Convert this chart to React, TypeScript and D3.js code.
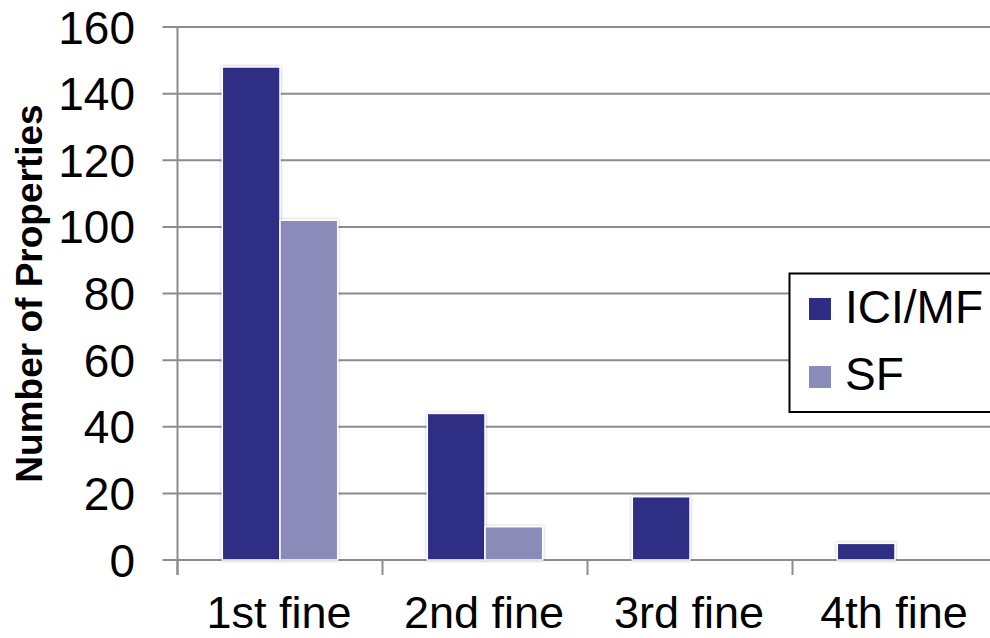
import React, { useEffect, useRef } from "react";
import * as d3 from "d3";

const categories = ["1st fine", "2nd fine", "3rd fine", "4th fine"];
const seriesNames = ["ICI/MF", "SF"];
const iciValues = [148, 44, 19, 5];
const sfValues = [102, 10, 0, 0];
const yTicks = [0, 20, 40, 60, 80, 100, 120, 140, 160];
const colors = ["#2E2D85", "#8A8BB8"];

const W = 990;
const H = 638;
const FONT = "'Liberation Sans', Arial, sans-serif";

export default function App() {
  const ref = useRef<SVGSVGElement>(null);

  useEffect(() => {
    const svg = d3.select(ref.current);
    svg.selectAll("*").remove();

    const x0 = 177.5, x1 = 997.5, yTop = 27, yBot = 560;
    const x = d3.scaleBand<string>().domain(categories).range([x0, x1]).padding(0);
    const xs = d3.scaleBand<string>().domain(seriesNames).range([44.8, x.bandwidth() - 44.8]).padding(0);
    const y = d3.scaleLinear().domain([0, 160]).range([yBot, yTop]);

    const defs = svg.append("defs");
    const f = defs.append("filter").attr("id", "sh").attr("x", "-20%").attr("y", "-20%").attr("width", "140%").attr("height", "140%");
    f.append("feDropShadow").attr("dx", 0).attr("dy", 0).attr("stdDeviation", 1.6).attr("flood-color", "#000").attr("flood-opacity", 0.3);

    // gridlines
    svg.append("g").selectAll("line").data(yTicks).join("line")
      .attr("x1", x0 - 15).attr("x2", W + 20)
      .attr("y1", d => y(d)).attr("y2", d => y(d))
      .attr("stroke", "#8C8C8C").attr("stroke-width", 2);

    // y axis line
    svg.append("line").attr("x1", x0).attr("x2", x0).attr("y1", yTop).attr("y2", yBot + 15)
      .attr("stroke", "#8C8C8C").attr("stroke-width", 2);

    // category ticks
    const catTicks = [...categories.map(c => x(c)!), x1];
    svg.append("g").selectAll("line").data(catTicks).join("line")
      .attr("x1", d => d).attr("x2", d => d)
      .attr("y1", yBot).attr("y2", yBot + 15)
      .attr("stroke", "#8C8C8C").attr("stroke-width", 2);

    // y tick labels
    svg.append("g").selectAll("text").data(yTicks).join("text")
      .attr("x", 135).attr("y", d => y(d)).attr("dy", "0.36em")
      .attr("text-anchor", "end").attr("font-family", FONT).attr("font-size", 46)
      .attr("fill", "#000").text(d => String(d));

    // category labels
    svg.append("g").selectAll("text").data(categories).join("text")
      .attr("x", d => x(d)! + x.bandwidth() / 2 - 1).attr("y", 628)
      .attr("text-anchor", "middle").attr("font-family", FONT).attr("font-size", 45)
      .attr("fill", "#000").text(d => d);

    // y title
    svg.append("text")
      .attr("transform", `translate(42, ${(yTop + yBot) / 2}) rotate(-90)`)
      .attr("text-anchor", "middle").attr("font-family", FONT).attr("font-size", 37)
      .attr("font-weight", "bold").attr("fill", "#000").text("Number of Properties");

    // bars
    const data = categories.map((c, i) => ({ c, vals: [iciValues[i], sfValues[i]] }));
    const g = svg.append("g");
    data.forEach(d => {
      d.vals.forEach((v, si) => {
        if (v <= 0) return;
        g.append("rect")
          .attr("x", x(d.c)! + xs(seriesNames[si])!)
          .attr("y", y(v))
          .attr("width", xs.bandwidth())
          .attr("height", y(0) - y(v))
          .attr("fill", colors[si])
          .attr("stroke", "#fff").attr("stroke-width", 1.5)
          .attr("filter", "url(#sh)");
      });
    });

    // legend
    const lg = svg.append("g");
    lg.append("rect").attr("x", 789.5).attr("y", 273.5).attr("width", 230).attr("height", 138.5)
      .attr("fill", "#fff").attr("stroke", "#000").attr("stroke-width", 2);
    seriesNames.forEach((s, i) => {
      lg.append("rect").attr("x", 809).attr("y", 298 + i * 68).attr("width", 22).attr("height", 22)
        .attr("fill", colors[i]);
      lg.append("text").attr("x", 845).attr("y", 323 + i * 67)
        .attr("font-family", FONT).attr("font-size", 46).attr("fill", "#000").text(s);
    });
  }, []);

  return (
    <svg ref={ref} width={W} height={H}
      style={{ position: "absolute", left: 0, top: 0, background: "#fff" }} />
  );
}
